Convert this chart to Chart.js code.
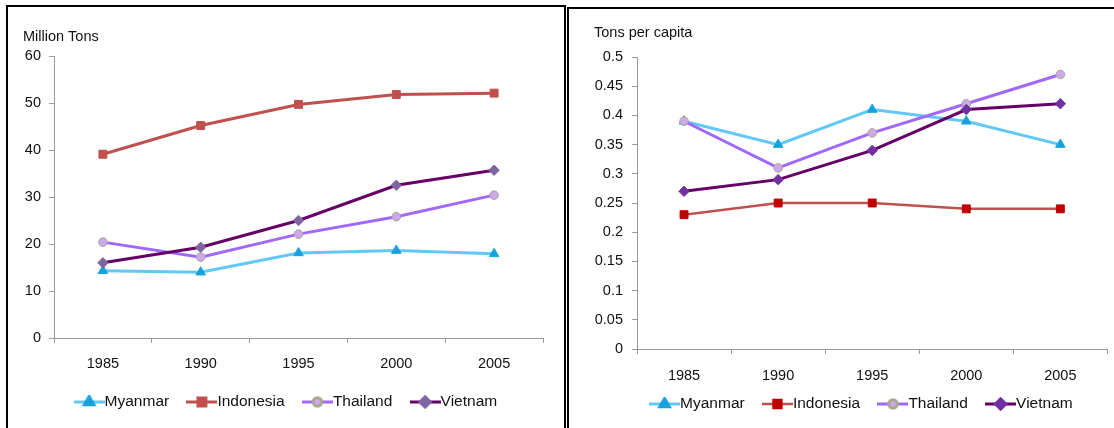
<!DOCTYPE html>
<html>
<head>
<meta charset="utf-8">
<script src="https://cdn.jsdelivr.net/npm/chart.js@4/dist/chart.umd.min.js"></script>
<style>
  html, body { margin: 0; padding: 0; background: #fff; width: 1114px; height: 428px; overflow: hidden; }
  .box { position: absolute; border: 2px solid #000; box-sizing: border-box; }
  canvas { position: absolute; top: 0; }
</style>
</head>
<body>
<div class="box" style="left:6px; top:5px; width:560px; height:500px;"></div>
<div class="box" style="left:567px; top:7px; width:600px; height:500px;"></div>
<canvas id="totalChart" width="562" height="460" style="left:0px"></canvas>
<canvas id="capitaChart" width="546" height="460" style="left:568px"></canvas>
<script>
// Data
const years = ['1985', '1990', '1995', '2000', '2005'];
const countries = ['Myanmar', 'Indonesia', 'Thailand', 'Vietnam'];

// Million tons
const myanmarTotal = [14.3, 14.0, 18.1, 18.6, 17.9];
const indonesiaTotal = [39.1, 45.2, 49.7, 51.8, 52.1];
const thailandTotal = [20.4, 17.2, 22.1, 25.8, 30.4];
const vietnamTotal = [16.0, 19.3, 25.0, 32.5, 35.7];

// Tons per capita
const myanmarCapita = [0.39, 0.35, 0.41, 0.39, 0.35];
const indonesiaCapita = [0.23, 0.25, 0.25, 0.24, 0.24];
const thailandCapita = [0.39, 0.31, 0.37, 0.42, 0.47];
const vietnamCapita = [0.27, 0.29, 0.34, 0.41, 0.42];

const FONT = '"Liberation Sans", Arial, sans-serif';

// series styles (right chart overrides a few marker colours)
const styles = {
    Myanmar:   { line: '#62C8F7', marker: '#17A2DE', border: '#17A2DE', shape: 'triangle', radius: 5.5, width: 3 },
    Indonesia: { line: '#C0504D', marker: '#C0504D', border: '#C0504D', shape: 'rect', radius: 5.6, width: 3 },
    Thailand:  { line: '#A068FF', marker: '#CDA8EC', border: '#A9A98A', shape: 'circle', radius: 4.3, width: 3 },
    Vietnam:   { line: '#660066', marker: '#8064A2', border: '#8064A2', shape: 'rectRot', radius: 5.2, width: 3 }
};

// legend icon: short line with the marker in the middle
const makeIcon = (st) => {
    const c = document.createElement('canvas');
    c.width = 31; c.height = 14;
    const ctx = c.getContext('2d');
    ctx.strokeStyle = st.line;
    ctx.lineWidth = st.width;
    ctx.beginPath();
    ctx.moveTo(0, 7);
    ctx.lineTo(31, 7);
    ctx.stroke();
    ctx.fillStyle = st.marker;
    ctx.strokeStyle = st.border;
    Chart.helpers.drawPoint(ctx, { pointStyle: st.shape, radius: st.radius, rotation: 0, borderWidth: 1 }, 15.5, 7);
    return c;
};

const cornerTitle = {
    id: 'cornerTitle',
    afterDraw(chart, args, opts) {
        const ctx = chart.ctx;
        ctx.save();
        ctx.font = '14.5px ' + FONT;
        ctx.fillStyle = '#111';
        ctx.textAlign = 'left';
        ctx.textBaseline = 'middle';
        ctx.fillText(opts.text, opts.x, opts.y);
        ctx.restore();
    }
};

// nudge the legend box after layout
const legendShift = {
    id: 'legendShift',
    afterLayout(chart, args, opts) {
        const l = chart.legend;
        l.left += opts.dx; l.right += opts.dx;
        l.top += opts.dy; l.bottom += opts.dy;
    }
};

// later series are drawn on top, like the original
const makeDatasets = (values, overrides) => countries.map((name, i) => {
    const st = Object.assign({}, styles[name], overrides[name] || {});
    return {
        label: name,
        data: values[i],
        order: countries.length - i,
        borderColor: st.line,
        borderWidth: st.width,
        backgroundColor: st.marker,
        pointStyle: st.shape,
        pointRadius: st.radius,
        pointHoverRadius: st.radius,
        pointBackgroundColor: st.marker,
        pointBorderColor: st.border,
        pointBorderWidth: 1,
        tension: 0,
        icon: makeIcon(st)
    };
});

const initializeChart = (el, cfg) => new Chart(el, {
    type: 'line',
    plugins: [cornerTitle, legendShift],
    data: {
        labels: years,
        datasets: cfg.datasets
    },
    options: {
        responsive: false,
        animation: false,
        devicePixelRatio: 1,
        layout: { padding: cfg.padding },
        plugins: {
            cornerTitle: cfg.title,
            legendShift: cfg.shift,
            title: { display: false },
            tooltip: { enabled: false },
            legend: {
                display: true,
                position: 'bottom',
                labels: {
                    usePointStyle: true,
                    pointStyleWidth: 15.5,
                    padding: 25,
                    color: '#111',
                    font: { family: FONT, size: 15.5 },
                    generateLabels: (chart) => {
                        const items = Chart.defaults.plugins.legend.labels.generateLabels(chart);
                        items.forEach(item => item.pointStyle = chart.data.datasets[item.datasetIndex].icon);
                        return items.sort((a, b) => a.datasetIndex - b.datasetIndex);
                    }
                }
            }
        },
        scales: {
            x: {
                offset: true,
                afterFit: (scale) => { scale.height = cfg.xHeight; },
                grid: { display: true, offset: true, drawOnChartArea: false, drawTicks: true, tickLength: 5, color: '#9A9A9A' },
                border: { display: true, color: '#9A9A9A', width: 1 },
                ticks: { color: '#111', padding: cfg.xPad, font: { family: FONT, size: 14.5 } }
            },
            y: {
                min: 0,
                max: cfg.max,
                afterFit: (scale) => { scale.width = cfg.yWidth; },
                grid: { display: true, drawOnChartArea: false, drawTicks: true, tickLength: 5, color: '#9A9A9A' },
                border: { display: true, color: '#9A9A9A', width: 1 },
                ticks: {
                    stepSize: cfg.step,
                    color: '#111',
                    padding: cfg.yPad,
                    font: { family: FONT, size: 14.5 },
                    callback: (v) => String(+Number(v).toFixed(2))
                }
            }
        }
    }
});

const totalChart = initializeChart(document.getElementById('totalChart'), {
    datasets: makeDatasets([myanmarTotal, indonesiaTotal, thailandTotal, vietnamTotal], {}),
    padding: { top: 56, left: 20, right: 19, bottom: 36.5 },
    title: { text: 'Million Tons', x: 23, y: 37 },
    shift: { dx: 7.75, dy: -3.75 },
    xHeight: 35, xPad: 12, yWidth: 34, yPad: 8,
    max: 60, step: 10
});

const capitaChart = initializeChart(document.getElementById('capitaChart'), {
    datasets: makeDatasets([myanmarCapita, indonesiaCapita, thailandCapita, vietnamCapita], {
        Indonesia: { marker: '#C00000', border: '#C00000', width: 2.5 },
        Vietnam: { marker: '#7030A0', border: '#7030A0' }
    }),
    padding: { top: 57, left: 20, right: 1, bottom: 24.5 },
    title: { text: 'Tons per capita', x: 26, y: 33 },
    shift: { dx: 14.25, dy: -13.75 },
    xHeight: 36, xPad: 13, yWidth: 49, yPad: 9,
    max: 0.5, step: 0.05
});
</script>
</body>
</html>
